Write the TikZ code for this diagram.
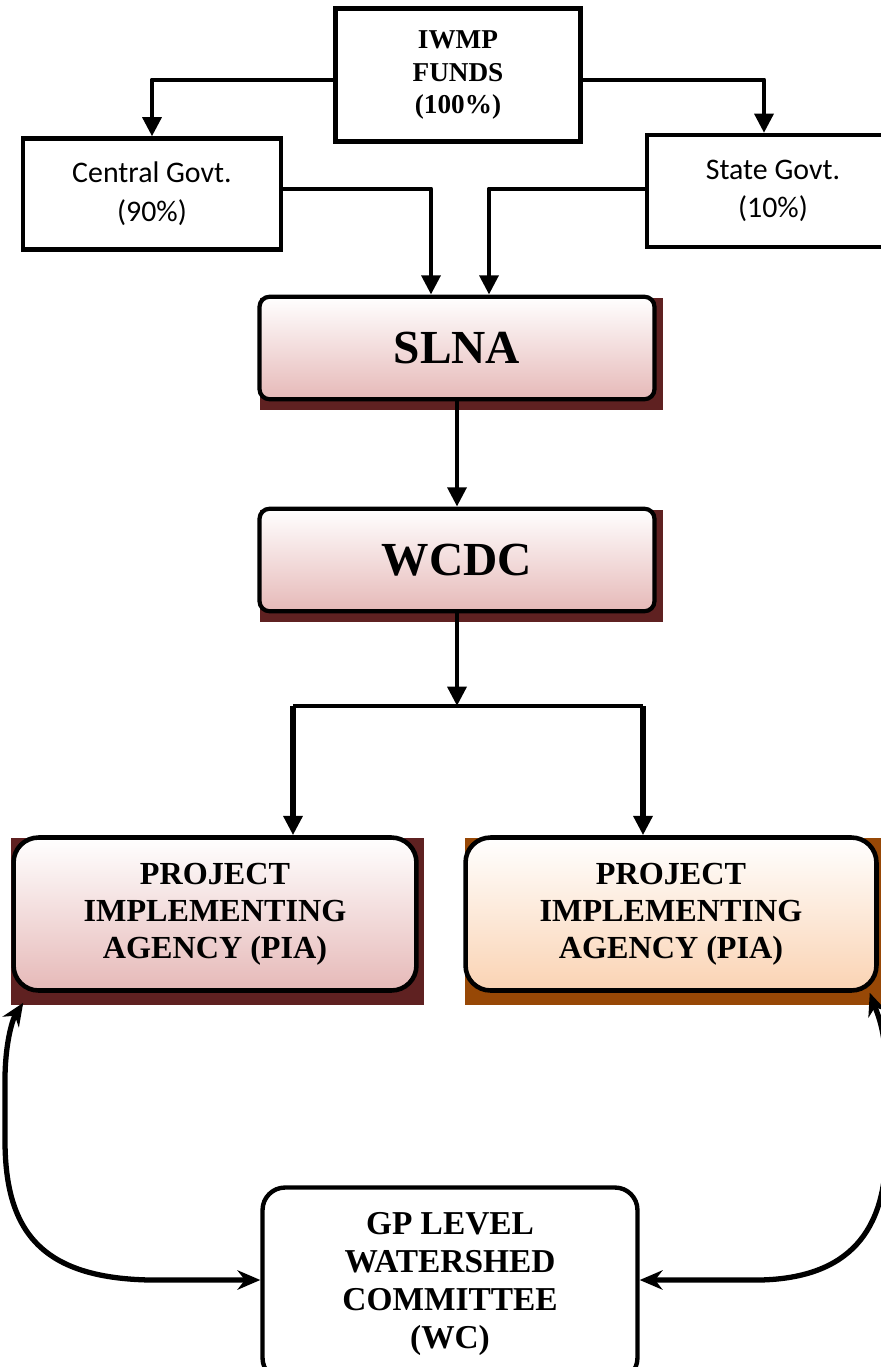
\documentclass[tikz,border=0pt]{standalone}
\usepackage{fontspec}
\setmainfont{Liberation Serif}
\newfontfamily\govtfont{Carlito}
\usetikzlibrary{arrows.meta, calc, backgrounds}
\definecolor{shadered}{HTML}{5F2121}
\definecolor{shadebrown}{HTML}{974806}
\definecolor{pinkfill}{HTML}{E6B9B8}
\definecolor{peachfill}{HTML}{FAD3B3}

\begin{document}
\begin{tikzpicture}[
    x=0.02cm, y=-0.02cm,
    fundbox/.style={draw,line width=2.5pt,fill=white,align=center,inner sep=0pt,font=\bfseries\fontsize{15.5}{18.5}\selectfont},
    govtbox/.style={draw,line width=2.3pt,fill=white,align=center,inner sep=0pt,font=\govtfont\fontsize{17}{22}\selectfont},
    levelbox/.style={draw,line width=2.4pt,rounded corners=0.2cm,top color=white,bottom color=pinkfill,minimum width=7.9cm,minimum height=2.05cm,inner sep=0pt,font=\bfseries\fontsize{27}{30}\selectfont},
    agencybox/.style={draw,line width=2.6pt,rounded corners=0.5cm,top color=white,align=center,minimum height=3.06cm,inner sep=0pt,font=\bfseries\fontsize{18.3}{21}\selectfont},
    wcbox/.style={draw,line width=2.5pt,rounded corners=0.45cm,fill=white,align=center,minimum width=7.5cm,minimum height=3.86cm,inner sep=0pt,font=\bfseries\fontsize{19}{21.5}\selectfont},
    arrow/.style={-{Triangle[length=11pt,width=10.5pt]},line width=2.8pt,line join=round},
    bigarrow/.style={-{Triangle[length=11pt,width=10.5pt]},line width=3.6pt},
    looparrow/.style={{Stealth[length=13pt,width=11pt]}-{Stealth[length=13pt,width=11pt]},line width=3pt,line join=round}
]
\useasboundingbox (0,0) rectangle (881,1367);
% funds and shares
\node[fundbox,minimum width=4.9cm,minimum height=2.66cm] (iwmp) at (458,75) {IWMP\\FUNDS\\(100\%)};
\node[govtbox,minimum width=5.18cm,minimum height=2.22cm] (central) at (152,194) {Central Govt.\\(90\%)};
\node[govtbox,minimum width=5.04cm,minimum height=2.24cm] (state) at (773,191) {State Govt.\\(10\%)};
% levels
\node[levelbox] (slna) at (457,348) {SLNA};
\node[levelbox] (wcdc) at (457,560) {WCDC};
\node[agencybox,minimum width=8.06cm,bottom color=pinkfill] (piaL) at (215,914) {PROJECT\\IMPLEMENTING\\AGENCY (PIA)};
\node[agencybox,minimum width=8.22cm,bottom color=peachfill] (piaR) at (671,914) {PROJECT\\IMPLEMENTING\\AGENCY (PIA)};
\node[wcbox] (wc) at (450,1284) {GP LEVEL\\WATERSHED\\COMMITTEE\\(WC)};
\begin{scope}[on background layer]
\fill[white] (0,0) rectangle (881,1367);
\fill[shadered] ($(slna.north west)+(3,3)$) rectangle ($(slna.south east)+(6,9)$);
\fill[shadered] ($(wcdc.north west)+(3,3)$) rectangle ($(wcdc.south east)+(6,9)$);
\fill[shadered] ($(piaL.north west)+(0,3)$) rectangle ($(piaL.south east)+(5,12)$);
\fill[shadebrown] ($(piaR.north west)+(2,3)$) rectangle ($(piaR.south east)+(10,12)$);
\end{scope}
% connectors
\draw[arrow] ($(iwmp.west)+(0,5)$) -| (central);
\draw[arrow] ($(iwmp.east)+(0,5)$) -| ($(state.north)+(-9,0)$);
\draw[arrow] ($(central.east)+(0,-5)$) -| ($(slna.north)+(-26,0)$);
\draw[arrow] ($(state.west)+(0,-2)$) -| ($(slna.north)+(32,0)$);
\draw[arrow] (slna) -- (wcdc);
\coordinate (split) at (457,706);
\coordinate (splitL) at (293,706);
\coordinate (splitR) at (643,706);
\draw[arrow] (wcdc) -- (split);
\draw[line width=2.8pt,line join=round] (splitL) -- (splitR);
\draw[bigarrow] (splitL) -- (splitL |- piaL.north);
\draw[bigarrow] (splitR) -- (splitR |- piaR.north);
\draw[looparrow] ($(wc.west)+(0,-4)$) -- (150,1280) .. controls (40,1278) and (5,1230) .. (5,1140) -- (5,1080) .. controls (5,1045) and (12,1020) .. ($(piaL.south west)+(12,10)$);
\draw[looparrow] ($(wc.east)+(0,-4)$) -- (760,1280) .. controls (850,1278) and (886,1230) .. (886,1150) -- (886,1070) .. controls (886,1030) and (876,1010) .. ($(piaR.south east)+(-9,0)$);
\end{tikzpicture}
\end{document}
